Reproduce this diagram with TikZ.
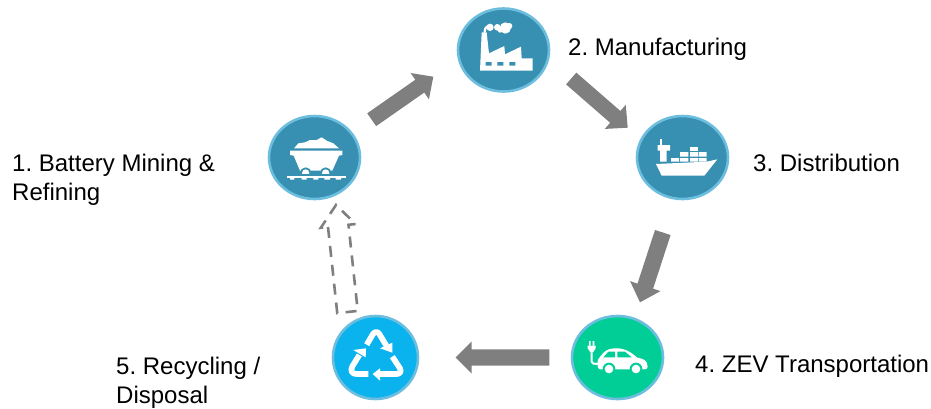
\documentclass[tikz,border=0pt]{standalone}
\usepackage{fontspec}
\setmainfont{Liberation Sans}
\usetikzlibrary{calc,shapes.geometric}
\definecolor{hubblue}{HTML}{378FB1}
\definecolor{hubring}{HTML}{6DBEDE}
\definecolor{hubgreen}{HTML}{00CE96}
\definecolor{hubcyan}{HTML}{0AB3EE}
\definecolor{arrowgray}{HTML}{7F7F7F}
\tikzset{
  hub/.style={ellipse,draw=hubring,line width=2.6pt,fill=hubblue,inner sep=0pt,minimum width=91pt,minimum height=83pt},
  label text/.style={inner sep=0pt,anchor=north west,align=left,font=\fontsize{24}{28.5}\selectfont\frenchspacing,text=black},
  solidarrow/.style={fill=arrowgray,draw=none},
  dashedarrow/.style={draw=arrowgray,line width=2.6pt,dash pattern=on 11pt off 8pt,fill=none},
  stroke/.style={draw=white,line join=round,fill=none}
}
% #1 style, #2 tail, #3 tip, #4 half shaft, #5 half head, #6 head length
\newcommand{\blockarrow}[6]{%
  \coordinate (hb) at ($(#3)!#6pt!(#2)$);
  \path[#1] ($(hb)!#4pt!90:(#3)$) -- ($(#2)!#4pt!90:(#3)$) -- ($(#2)!#4pt!-90:(#3)$)
     -- ($(hb)!#4pt!-90:(#3)$) -- ($(hb)!#5pt!-90:(#3)$) -- (#3) -- ($(hb)!#5pt!90:(#3)$) -- cycle;
}
\begin{document}
\begin{tikzpicture}[x=1pt,y=-1pt]
\useasboundingbox (0,0) rectangle (931,408);

% hubs
\node[hub] (n1) at (314.5,157.5) {};
\node[hub] (n2) at (503.5,50) {};
\node[hub] (n3) at (682.5,157.5) {};
\node[hub,fill=hubgreen] (n4) at (617.5,357.5) {};
\node[hub,fill=hubcyan,minimum width=85pt] (n5) at (375.5,357.5) {};

% arrow ends
\coordinate (a1s) at (371.7,119.7);  \coordinate (a1e) at (433.3,76.7);
\coordinate (a2s) at (571.2,78.5);   \coordinate (a2e) at (627.7,127.7);
\coordinate (a3s) at (662.8,232.5);  \coordinate (a3e) at (640,302.3);
\coordinate (a4s) at (549.3,357.5);  \coordinate (a4e) at (455.7,357.5);
\coordinate (a5s) at (347.5,312);    \coordinate (a5e) at (336,205);
\blockarrow{solidarrow}{a1s}{a1e}{7.8}{16}{16.5}
\blockarrow{solidarrow}{a2s}{a2e}{7.8}{16}{16.5}
\blockarrow{solidarrow}{a3s}{a3e}{8.2}{16}{17}
\blockarrow{solidarrow}{a4s}{a4e}{8.2}{16}{16}
\blockarrow{dashedarrow}{a5s}{a5e}{10.3}{17.5}{21}

% factory
\begin{scope}[shift={(440,0)},scale=1/3]
  \fill[white] (120,212) -- (125,97) -- (140,97) -- (147,160) -- (193,138) -- (195,163) -- (243,140) -- (245,175) -- (278,175) -- (278,212) -- cycle;
  \fill[hubblue] (137,186) rectangle (155,197) (172,186) rectangle (190,197) (208,186) rectangle (226,197);
  \draw[stroke,line width=2.2pt,line cap=round] (134,96) .. controls (134,80) and (142,78) .. (152,80);
  \fill[white] (150,82) circle (11);
  \fill[white] (172,82) circle (10);
  \fill[white] (196,84) circle (17);
  \fill[white] (208,78) circle (9);
  \fill[white] (180,92) circle (6);
\end{scope}

% mine cart
\begin{scope}[shift={(255,105)},scale=1/3]
  \fill[white] (117,130) -- (130,115) -- (150,112) -- (165,105) -- (185,105) -- (200,97) -- (215,107) -- (235,115) -- (252,130) -- cycle;
  \fill[white] (105,137) -- (262,137) -- (262,150) -- (252,152) -- (232,197) -- (135,197) -- (116,152) -- (105,150) -- cycle;
  \fill[hubblue] (152,204) circle (17) (212,204) circle (17);
  \fill[white] (152,204) circle (11) (212,204) circle (11);
  \fill[hubblue] (95,206) rectangle (272,212);
  \fill[white] (95,212) rectangle (272,218);
  \fill[white] (105,218) rectangle (118,224) (140,218) rectangle (155,224) (175,218) rectangle (190,224) (208,218) rectangle (225,224) (242,218) rectangle (258,224);
\end{scope}

% ship
\begin{scope}[shift={(625,110)},scale=1/3]
  \fill[white] (93,162) -- (245,155) -- (277,148) -- (238,197) -- (110,197) -- cycle;
  \fill[white] (104,88) rectangle (110,105);
  \fill[white] (98,105) -- (135,105) -- (135,122) -- (125,122) -- (125,155) -- (105,155) -- (105,122) -- (98,122) -- cycle;
  \fill[white] (138,144) rectangle (162,155) (165,144) rectangle (190,155) (195,144) rectangle (220,155) (222,144) rectangle (245,155);
  \fill[white] (165,126) rectangle (190,140) (195,126) rectangle (220,140) (222,126) rectangle (245,140);
  \fill[white] (195,111) rectangle (220,122);
\end{scope}

% electric car
\begin{scope}[shift={(560,305)},scale=1/3]
  \fill[white] (113,178) .. controls (112,165) and (115,160) .. (122,153) .. controls (132,140) and (140,131) .. (165,130)
     .. controls (190,129) and (205,135) .. (232,158) .. controls (250,161) and (262,165) .. (263,185)
     .. controls (263,190) and (260,193) .. (250,193) -- (120,193) .. controls (114,192) and (113,188) .. (113,178) -- cycle;
  \fill[hubgreen] (130,157) -- (145,140) -- (165,140) -- (165,157) -- cycle;
  \fill[hubgreen] (172,140) -- (195,140) -- (215,157) -- (172,157) -- cycle;
  \fill[hubgreen] (147,192) circle (19) (228,192) circle (19);
  \fill[white] (147,192) circle (13) (228,192) circle (13);
  \fill[white] (87,108) rectangle (92,122) (98,108) rectangle (103,122);
  \fill[white] (83,122) -- (107,122) -- (107,130) -- (99,142) -- (91,142) -- (83,130) -- cycle;
  \draw[stroke,line width=2pt] (95,142) -- (95,170) .. controls (95,176) and (100,177) .. (118,176);
\end{scope}

% recycling
\begin{scope}[shift={(315,305)},scale=1/3]
  \draw[stroke,line width=5.7pt] (155,119) -- (174,87) .. controls (180,79) and (188,79) .. (193,87) -- (214,122);
  \fill[white] (232,143) -- (195,130) -- (232,113) -- cycle;
  \draw[stroke,line width=5.7pt] (160,207) -- (124,207) .. controls (110,207) and (105,196) .. (112,184) -- (133,150);
  \fill[white] (153,130) -- (115,135) -- (152,157) -- cycle;
  \draw[stroke,line width=5.7pt] (232,155) -- (255,190) .. controls (260,199) and (255,207) .. (245,207) -- (192,207);
  \fill[white] (173,207) -- (195,190) -- (195,227) -- cycle;
\end{scope}

% labels
\node[label text] (t1) at (12,154) {1. Battery Mining \&\\Refining};
\node[label text] (t2) at (568,38) {2. Manufacturing};
\node[label text] (t3) at (753,154) {3. Distribution};
\node[label text] (t4) at (695,355) {4. ZEV Transportation};
\node[label text] (t5) at (116,357) {5. Recycling /\\Disposal};
\end{tikzpicture}
\end{document}
